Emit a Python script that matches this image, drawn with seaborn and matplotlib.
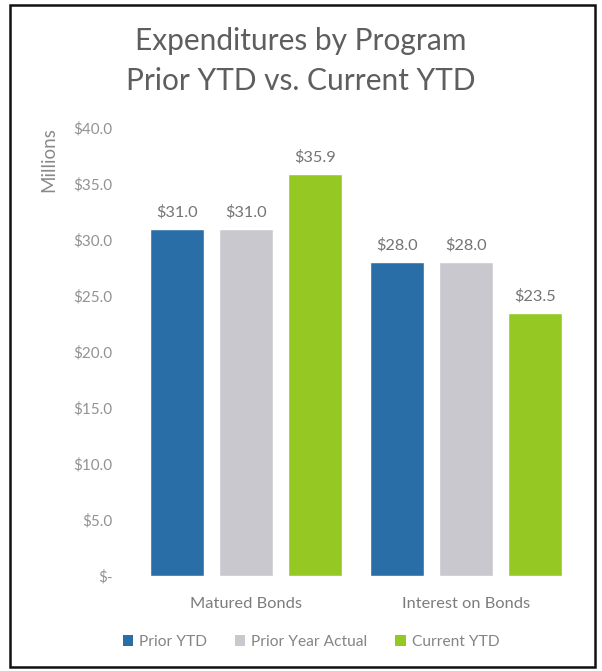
import matplotlib
matplotlib.use("Agg")
import matplotlib.pyplot as plt
from matplotlib.patches import Rectangle, Patch
import pandas as pd
import seaborn as sns

# Expenditures (millions of dollars)
programs = ["Matured Bonds", "Interest on Bonds"]
series = ["Prior YTD", "Prior Year Actual", "Current YTD"]
prior_ytd = [31.0, 28.0]
prior_year_actual = [31.0, 28.0]
current_ytd = [35.9, 23.5]
y_ticks = [0, 5, 10, 15, 20, 25, 30, 35, 40]
colors = ["#2A6EA8", "#C8C8CE", "#95C823"]

df = pd.DataFrame({
    "Program": programs * 3,
    "Series": [s for s in series for _ in programs],
    "Value": prior_ytd + prior_year_actual + current_ytd,
})

sns.set_theme(style="white")
plt.rcParams["font.family"] = ["Lato", "DejaVu Sans"]

W, H = 602, 671
fig = plt.figure(figsize=(W / 100, H / 100), dpi=100)
fig.patch.set_facecolor("white")

ax = fig.add_axes([136 / W, (H - 576) / H, 440 / W, 448 / H])
sns.barplot(data=df, x="Program", y="Value", hue="Series", order=programs,
            hue_order=series, palette=dict(zip(series, colors)),
            width=0.94, gap=0.22, saturation=1, legend=False, ax=ax)

ax.set_xlim(-0.5, 1.5)
ax.set_ylim(0, 40)
ax.set_yticks(y_ticks)
ax.set_yticklabels(["$-" if v == 0 else f"${v:.1f}" for v in y_ticks])
ax.tick_params(axis="y", length=0, pad=17, labelsize=11, labelcolor="#929292")
ax.tick_params(axis="x", length=0, pad=15, labelsize=11.8, labelcolor="#7C7C7C")
ax.set_xlabel("")
ax.set_ylabel("Millions", fontsize=13.5, color="#8A8A8A")
ax.yaxis.set_label_coords(-0.178, 0.93)
for s in ax.spines.values():
    s.set_visible(False)

for cont in ax.containers:
    ax.bar_label(cont, labels=[f"${v:.1f}" for v in cont.datavalues],
                 padding=7, fontsize=11.8, color="#747474")

fig.text(0.50, 1 - 50 / H, "Expenditures by Program", ha="center", va="baseline",
         fontsize=21.5, color="#5E5E5E")
fig.text(0.50, 1 - 90 / H, "Prior YTD vs. Current YTD", ha="center", va="baseline",
         fontsize=21.5, color="#5E5E5E")

handles = [Patch(facecolor=c, edgecolor="none") for c in colors]
fig.legend(handles, series, loc="center", bbox_to_anchor=(311 / W, 1 - 642 / H),
           ncol=3, frameon=False, labelcolor="#858585",
           prop={"size": 11.2},
           handlelength=0.65, handleheight=0.65, handletextpad=0.4, columnspacing=1.8)

fig.add_artist(Rectangle((10 / W, 4 / H), 585 / W, 662 / H, transform=fig.transFigure,
                         fill=False, edgecolor="#111111", linewidth=1.8))

fig.savefig("out.png", dpi=100, facecolor="white")
